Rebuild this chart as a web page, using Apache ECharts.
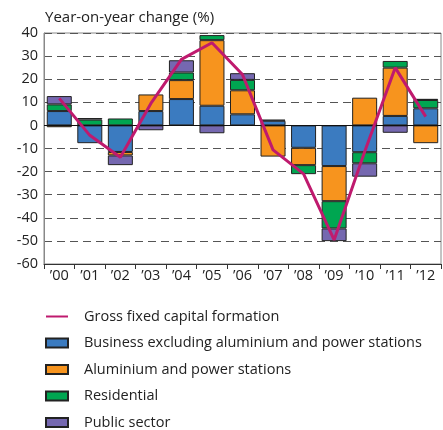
<!DOCTYPE html>
<html>
<head>
<meta charset="utf-8">
<script src="https://cdn.jsdelivr.net/npm/echarts@6/dist/echarts.min.js"></script>
<style>
  html, body { margin: 0; padding: 0; background: #fff; }
  #chart { width: 443px; height: 430px; }
</style>
</head>
<body>
<div id="chart"></div>
<script>
// years on the x axis
var years = ['’00', '’01', '’02', '’03', '’04', '’05', '’06', '’07', '’08', '’09', '’10', '’11', '’12'];

// contributions, percentage points
var business = [6.2, -7.7, -11.5, 6.2, 11.4, 8.5, 4.8, 2.0, -9.7, -17.6, -11.6, 4.1, 7.4];
var aluminium = [-0.8, null, -1.5, 7.2, 8.2, 28.4, 10.4, -13.5, -7.5, -15.2, 12.0, 20.9, -7.7];
var residential = [2.9, 2.5, 3.0, null, 3.3, 2.2, 4.5, null, -3.9, -11.8, -4.8, 2.9, 3.6];
var publicSector = [3.6, 0.7, -4.2, -2.1, 5.3, -3.4, 2.9, 0.5, null, -5.5, -5.8, -3.2, 0.5];

// gross fixed capital formation, year-on-year %
var gfcf = [11.7, -4.3, -13.8, 9.5, 28.6, 35.8, 22.0, -10.6, -21.0, -49.6, -11.4, 25.0, 3.8];

var font = 'Open Sans';
var lineColor = '#bf1a6e';

function barSeries(name, data, color) {
    return {
        name: name,
        type: 'bar',
        stack: 'total',
        barWidth: 25,
        data: data,
        itemStyle: {
            color: color,
            borderColor: '#222',
            borderWidth: 1
        }
    };
}

var chart = echarts.init(document.getElementById('chart'));

var series = [
    barSeries('Business excluding aluminium and power stations', business, '#3b7bc0'),
    barSeries('Aluminium and power stations', aluminium, '#f7941e'),
    barSeries('Residential', residential, '#00a651'),
    barSeries('Public sector', publicSector, '#7568b0'),
    {
        name: 'Gross fixed capital formation',
        type: 'line',
        data: gfcf,
        symbol: 'none',
        z: 5,
        lineStyle: { color: lineColor, width: 3 },
        itemStyle: { color: lineColor },
        markLine: {
            silent: true,
            symbol: 'none',
            z: 3,
            label: { show: false },
            lineStyle: { color: '#111', width: 1, type: 'solid' },
            data: [{ yAxis: 0 }]
        }
    }
];

chart.setOption({
    animation: false,
    title: {
        text: 'Year-on-year change (%)',
        left: 40,
        top: 5,
        textStyle: { fontFamily: font, fontSize: 15, fontWeight: 'normal', color: '#222' }
    },
    legend: {
        orient: 'vertical',
        left: 45,
        top: 309,
        height: 160,
        padding: 0,
        itemWidth: 22,
        itemHeight: 9,
        itemGap: 11.5,
        textStyle: { fontFamily: font, fontSize: 14.5, color: '#222', padding: [0, 0, 0, 11] },
        data: [
            {
                name: 'Gross fixed capital formation',
                icon: 'path://M0,0 L22,0 L22,2 L0,2 Z',
                itemStyle: { color: lineColor, borderWidth: 0 }
            },
            { name: 'Business excluding aluminium and power stations', icon: 'rect' },
            { name: 'Aluminium and power stations', icon: 'rect' },
            { name: 'Residential', icon: 'rect' },
            { name: 'Public sector', icon: 'rect' }
        ]
    },
    grid: {
        left: 44,
        right: 2,
        top: 33,
        bottom: 166,
        show: true,
        borderColor: '#888',
        borderWidth: 1
    },
    xAxis: {
        type: 'category',
        data: years,
        axisLine: { onZero: false, lineStyle: { color: '#333' } },
        axisTick: { show: true, length: 5, lineStyle: { color: '#333' } },
        axisLabel: { fontFamily: font, fontSize: 14.5, color: '#222', margin: 4 }
    },
    yAxis: {
        type: 'value',
        min: -60,
        max: 40,
        interval: 10,
        axisLine: { show: true, lineStyle: { color: '#888' } },
        axisTick: { show: false },
        axisLabel: { fontFamily: font, fontSize: 14.5, color: '#222', margin: 6 },
        splitLine: { lineStyle: { color: '#555', type: [8, 5], width: 1 } }
    },
    series: series
});
</script>
</body>
</html>
